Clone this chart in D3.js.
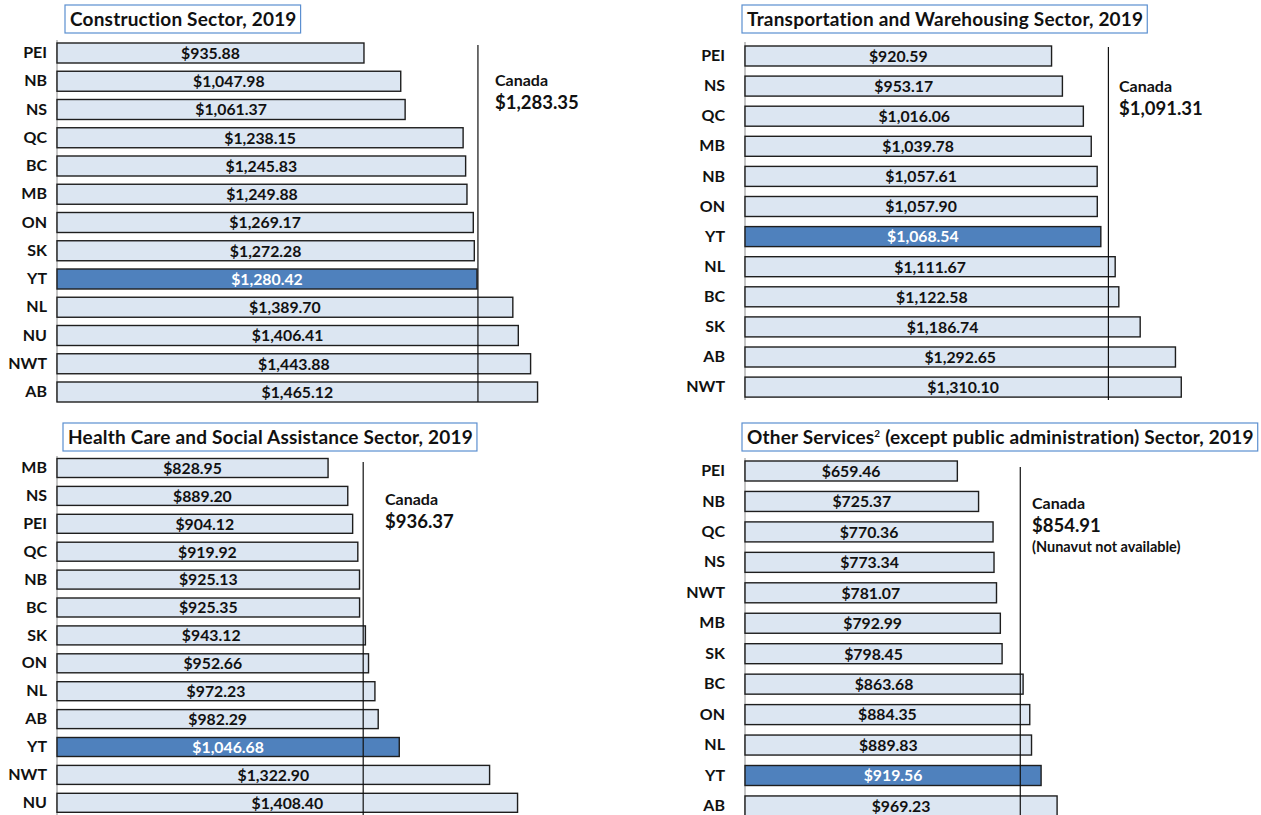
<!DOCTYPE html>
<html><head><meta charset="utf-8">
<script src="https://cdn.jsdelivr.net/npm/d3@7"></script>
<style>body{margin:0;background:#fff}svg{display:block}</style>
</head><body>
<script>
// ---- data ----
const constructionProv = ["PEI","NB","NS","QC","BC","MB","ON","SK","YT","NL","NU","NWT","AB"];
const constructionVals = [935.88,1047.98,1061.37,1238.15,1245.83,1249.88,1269.17,1272.28,1280.42,1389.70,1406.41,1443.88,1465.12];
const constructionCanada = 1283.35;

const transportProv = ["PEI","NS","QC","MB","NB","ON","YT","NL","BC","SK","AB","NWT"];
const transportVals = [920.59,953.17,1016.06,1039.78,1057.61,1057.90,1068.54,1111.67,1122.58,1186.74,1292.65,1310.10];
const transportCanada = 1091.31;

const healthProv = ["MB","NS","PEI","QC","NB","BC","SK","ON","NL","AB","YT","NWT","NU"];
const healthVals = [828.95,889.20,904.12,919.92,925.13,925.35,943.12,952.66,972.23,982.29,1046.68,1322.90,1408.40];
const healthCanada = 936.37;

const otherProv = ["PEI","NB","QC","NS","NWT","MB","SK","BC","ON","NL","YT","AB"];
const otherVals = [659.46,725.37,770.36,773.34,781.07,792.99,798.45,863.68,884.35,889.83,919.56,969.23];
const otherCanada = 854.91;

const highlight = "YT";
const fmt = d3.format("$,.2f");

const svg = d3.select("body").append("svg").attr("width",1261).attr("height",815);
const FONT = "Lato, 'Open Sans', sans-serif";

function panel(cfg){
  const g = svg.append("g");
  const x = d3.scaleLinear().domain(cfg.domain).range([cfg.x0, cfg.x0 + cfg.pxPer*(cfg.domain[1]-cfg.domain[0])]);
  const n = cfg.prov.length;
  const y = d3.scaleBand().domain(cfg.prov)
     .range([cfg.yc0 - cfg.step/2, cfg.yc0 - cfg.step/2 + n*cfg.step])
     .paddingInner(1 - cfg.bh/cfg.step).paddingOuter((1 - cfg.bh/cfg.step)/2);
  const data = cfg.prov.map((p,i)=>({p, v:cfg.vals[i]}));

  // title box
  const title = g.append("text").attr("x", cfg.tx+5).attr("y", cfg.ty+20.5)
     .attr("font-family",FONT).attr("font-weight","bold").attr("font-size",19)
     .attr("letter-spacing",0.2).attr("fill","#111");
  cfg.title(title);
  const bb = title.node().getBBox();
  g.insert("rect","text").attr("x",cfg.tx).attr("y",cfg.ty).attr("width",bb.width+9).attr("height",28)
     .attr("fill","#fff").attr("stroke","#5b8fd0").attr("stroke-width",1.2);

  // axis line
  g.append("line").attr("x1",x(0)).attr("x2",x(0)).attr("y1",cfg.axY[0]).attr("y2",cfg.axY[1])
     .attr("stroke","#b0b0b0").attr("stroke-width",1.5);

  // bars
  g.selectAll("rect.bar").data(data).join("rect").attr("class","bar")
    .attr("x",x(0)).attr("y",d=>y(d.p)).attr("width",d=>x(d.v)-x(0)).attr("height",y.bandwidth())
    .attr("fill",d=>d.p===highlight?"#4f81bd":"#dce6f2")
    .attr("stroke","#1e1e1e").attr("stroke-width",1.4);

  // value labels
  g.selectAll("text.val").data(data).join("text").attr("class","val")
    .attr("x",d=>(x(0)+x(d.v))/2).attr("y",d=>y(d.p)+y.bandwidth()/2).attr("dy","0.37em")
    .attr("text-anchor","middle").attr("font-family",FONT).attr("font-weight","bold").attr("font-size",15.8)
    .attr("fill",d=>d.p===highlight?"#fff":"#111").text(d=>fmt(d.v));

  // category labels
  const yAxis = d3.axisLeft(y).tickSize(0).tickPadding(0);
  const ga = g.append("g").attr("transform",`translate(${cfg.labX},0)`).call(yAxis);
  ga.select(".domain").remove();
  ga.selectAll("text").attr("font-family",FONT).attr("font-weight","bold").attr("font-size",16).attr("fill","#111");

  // Canada line
  g.append("line").attr("x1",x(cfg.canada)).attr("x2",x(cfg.canada)).attr("y1",cfg.cY[0]).attr("y2",cfg.cY[1])
    .attr("stroke","#111").attr("stroke-width",1.2);
  g.append("text").attr("x",cfg.cx).attr("y",cfg.cty).attr("font-family",FONT).attr("font-weight","bold")
    .attr("font-size",16).attr("fill","#111").text("Canada");
  g.append("text").attr("x",cfg.cx).attr("y",cfg.cty+23).attr("font-family",FONT).attr("font-weight","bold")
    .attr("font-size",18.5).attr("fill","#111").text(fmt(cfg.canada));
  if(cfg.note){
    g.append("text").attr("x",cfg.cx).attr("y",cfg.cty+43).attr("font-family",FONT).attr("font-weight","bold")
      .attr("font-size",14.5).attr("fill","#111").text(cfg.note);
  }
}

panel({prov:constructionProv, vals:constructionVals, canada:constructionCanada, domain:[0,1500],
  x0:57, pxPer:0.328, yc0:53, step:28.25, bh:20, labX:47,
  tx:65, ty:5, title:t=>t.text("Construction Sector, 2019"),
  axY:[40,402], cY:[45,402], cx:495, cty:86});

panel({prov:transportProv, vals:transportVals, canada:transportCanada, domain:[0,1500],
  x0:745, pxPer:0.333, yc0:56, step:30.1, bh:20, labX:725,
  tx:742, ty:5, title:t=>t.text("Transportation and Warehousing Sector, 2019"),
  axY:[42,400], cY:[47,400], cx:1119, cty:92});

panel({prov:healthProv, vals:healthVals, canada:healthCanada, domain:[0,1500],
  x0:57, pxPer:0.327, yc0:468, step:27.9, bh:19, labX:47,
  tx:63, ty:423, title:t=>t.text("Health Care and Social Assistance Sector, 2019"),
  axY:[456,815], cY:[462,815], cx:385, cty:505});

panel({prov:otherProv, vals:otherVals, canada:otherCanada, domain:[0,1000], note:"(Nunavut not available)",
  x0:745, pxPer:0.322, yc0:471, step:30.45, bh:20, labX:725,
  tx:742, ty:423, title:t=>{t.append("tspan").text("Other Services");
     t.append("tspan").attr("font-size",10).attr("dy","-7").text("2");
     t.append("tspan").attr("dy","7").text(" (except public administration) Sector, 2019");},
  axY:[458,815], cY:[467,815], cx:1032, cty:509});
</script>
</body></html>
